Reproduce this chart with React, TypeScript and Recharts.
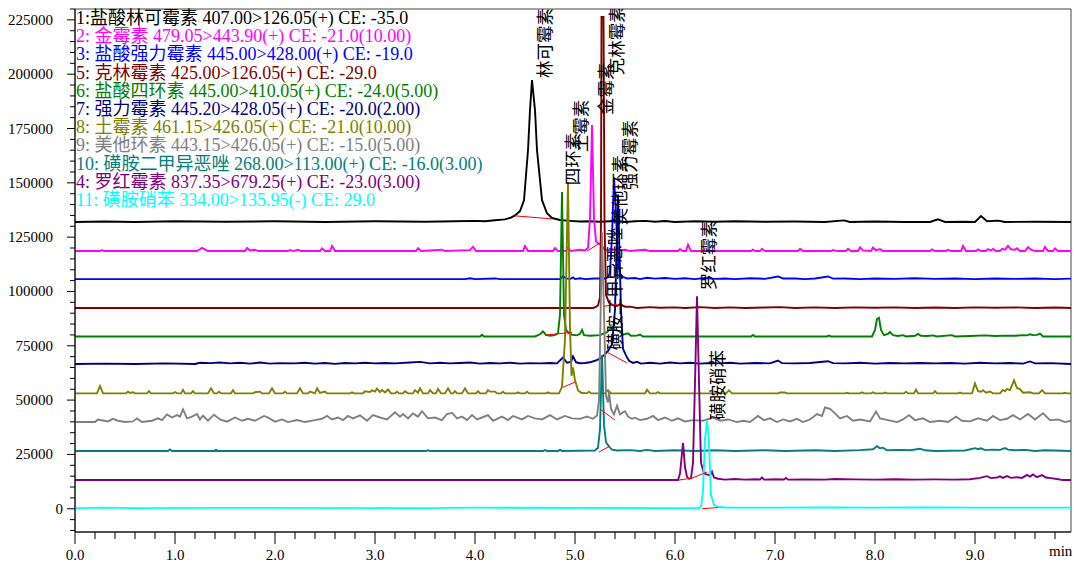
import { ComposedChart, Line, Scatter, XAxis, YAxis, ReferenceArea } from 'recharts';

type Pt = [number, number];

// retention time (min) / height above the trace baseline
const lincomycin: Pt[] = [
  [0, 0], [0.3, 200], [0.6, 0], [1.0, 300], [1.5, 100], [2.0, 300], [2.5, 0], [3.0, 300], [3.5, 100], [3.8, 300],
  [4.0, 500], [4.1, 300], [4.2, 800], [4.3, 1200], [4.36, 2000], [4.4, 3000], [4.45, 5000], [4.49, 10000],
  [4.53, 33000], [4.55, 51500], [4.57, 65300], [4.6, 51500], [4.62, 33000], [4.67, 10000], [4.72, 4000],
  [4.77, 1800], [4.85, 900], [4.95, 500], [5.05, 200], [5.15, 300], [5.25, 100], [5.4, 400], [5.5, 0], [5.6, 300],
  [5.7, 500], [5.8, 100], [5.9, 400], [6.0, 0], [6.2, 300], [6.4, 100], [6.6, 300], [6.9, 100], [7.2, 200],
  [7.5, 0], [7.69, 700], [7.75, 0], [8.0, 200], [8.3, 0], [8.55, 0], [8.63, 1200], [8.7, 0], [8.9, 100], [9.0, 0],
  [9.06, 2700], [9.12, 300], [9.23, 600], [9.3, 0], [9.6, 100], [9.96, 0],
];
const chlortetracycline: Pt[] = [
  [0, 0], [0.25, 0], [0.27, 500], [0.29, 0], [1.22, 0], [1.25, 800], [1.27, 1500], [1.3, 800], [1.33, 0],
  [1.7, 0], [1.72, 1400], [1.75, 300], [1.8, 600], [1.83, 0], [2.13, 0], [2.15, 500], [2.18, 0], [2.23, 600],
  [2.26, 0], [2.45, 0], [2.47, 1200], [2.5, 0], [2.55, 0], [2.57, 2400], [2.6, 0], [3.41, 0], [3.43, 1300],
  [3.46, 0], [3.67, 600], [3.7, 0], [3.95, 400], [3.98, 2000], [4.01, 0], [4.48, 0], [4.5, 2400], [4.53, 0],
  [4.78, 0], [4.8, 1400], [4.83, 0], [4.91, 0], [4.93, 1600], [4.96, 0], [5.05, 600], [5.1, 300], [5.13, 1500],
  [5.15, 15000], [5.17, 58000], [5.19, 15000], [5.21, 4500], [5.23, 3600], [5.26, 3000], [5.29, 1000],
  [5.33, 300], [5.38, 800], [5.42, 200], [5.5, 600], [5.55, 0], [5.7, 600], [5.75, 0], [6.03, 0], [6.05, 900],
  [6.08, 0], [6.11, 0], [6.13, 3000], [6.16, 0], [6.76, 0], [6.78, 600], [6.8, 0], [6.85, 0], [6.87, 1000],
  [6.9, 0], [7.23, 0], [7.25, 1000], [7.28, 0], [7.56, 0], [7.58, 500], [7.62, 0], [7.71, 0], [7.73, 1000],
  [7.76, 0], [7.83, 0], [7.85, 1700], [7.88, 300], [7.96, 0], [7.98, 1600], [8.01, 300], [8.05, 900], [8.08, 0],
  [8.55, 0], [8.57, 800], [8.6, 0], [8.71, 0], [8.73, 600], [8.76, 0], [8.86, 0], [8.88, 2400], [8.91, 0],
  [9.01, 0], [9.03, 800], [9.06, 0], [9.11, 0], [9.13, 900], [9.16, 300], [9.18, 1000], [9.21, 0], [9.25, 0],
  [9.27, 1000], [9.3, 600], [9.33, 2400], [9.36, 800], [9.4, 600], [9.42, 1300], [9.45, 0], [9.5, 0],
  [9.53, 1800], [9.56, 600], [9.6, 0], [9.68, 0], [9.7, 1900], [9.73, 0], [9.78, 0], [9.8, 1200], [9.83, 0],
  [9.96, 0],
];
const doxycyclineHcl: Pt[] = [
  [0, 0], [3.9, 0], [3.95, 400], [4.0, 0], [4.2, 300], [4.25, 0], [4.85, 0], [4.88, 1300], [4.91, 300],
  [4.95, 0], [4.98, 800], [5.0, 0], [5.05, 400], [5.1, 0], [5.2, 300], [5.3, 300], [5.33, 800], [5.35, 3000],
  [5.37, 20000], [5.39, 46900], [5.41, 30000], [5.43, 8000], [5.45, 2500], [5.48, 1000], [5.52, 300],
  [5.6, 500], [5.65, 0], [5.72, 600], [5.8, 200], [5.9, 500], [6.0, 100], [6.1, 400], [6.2, 0], [6.3, 500],
  [6.4, 100], [6.5, 300], [6.6, 0], [6.75, 400], [6.9, 100], [7.03, 1200], [7.08, 300], [7.2, 300], [7.3, 0],
  [7.4, 300], [7.53, 1200], [7.58, 200], [7.7, 300], [7.85, 0], [8.0, 300], [8.2, 100], [8.4, 400], [8.6, 100],
  [8.8, 300], [9.0, 0], [9.2, 300], [9.4, 100], [9.6, 300], [9.8, 0], [9.96, 200],
];
const clindamycin: Pt[] = [
  [0, 0], [5.18, 0], [5.21, 500], [5.23, 1200], [5.25, 5000], [5.26, 40000], [5.265, 133900], [5.285, 133900],
  [5.295, 40000], [5.31, 6000], [5.34, 2500], [5.38, 1200], [5.42, 900], [5.45, 1800], [5.5, 600], [5.55, 600],
  [5.62, 0], [5.75, 400], [5.85, 100], [6.0, 300], [6.1, 0], [6.25, 400], [6.4, 0], [6.55, 300], [6.7, 0],
  [6.9, 200], [7.05, 400], [7.2, 0], [7.4, 300], [7.6, 0], [7.8, 300], [8.0, 100], [8.2, 300], [8.4, 0],
  [8.6, 200], [8.8, 0], [9.0, 300], [9.2, 100], [9.4, 300], [9.6, 0], [9.8, 200], [9.96, 0],
];
const tetracyclineHcl: Pt[] = [
  [0, 0], [4.05, 0], [4.07, 800], [4.09, 0], [4.6, 0], [4.65, 1000], [4.68, 2300], [4.71, 700], [4.75, 300],
  [4.8, 600], [4.83, 1500], [4.85, 10000], [4.87, 66500], [4.89, 10000], [4.91, 3000], [4.94, 1500],
  [4.97, 800], [5.02, 500], [5.05, 1200], [5.07, 3000], [5.09, 600], [5.15, 300], [5.25, 600], [5.32, 2000],
  [5.36, 4000], [5.4, 3000], [5.44, 2500], [5.48, 800], [5.53, 1400], [5.56, 300], [5.62, 400], [5.65, 900],
  [5.68, 0], [6.76, 0], [6.78, 700], [6.8, 0], [7.52, 0], [7.54, 400], [7.56, 0], [7.97, 0], [8.0, 3000],
  [8.02, 8000], [8.04, 8600], [8.06, 3000], [8.09, 600], [8.13, 1200], [8.15, 2000], [8.18, 600], [8.23, 200],
  [8.28, 600], [8.31, 0], [8.4, 300], [8.43, 1200], [8.46, 300], [8.52, 200], [8.58, 500], [8.62, 0],
  [8.77, 600], [8.8, 0], [8.95, 200], [9.1, 500], [9.2, 200], [9.3, 400], [9.4, 300], [9.48, 600], [9.52, 500],
  [9.55, 1000], [9.58, 600], [9.62, 700], [9.65, 1300], [9.68, 0], [9.96, 0],
];
const doxycycline: Pt[] = [
  [0, 0], [0.3, 200], [0.6, 0], [0.9, 300], [1.2, 0], [1.25, 600], [1.35, 400], [1.45, 700], [1.55, 300],
  [1.65, 600], [1.75, 200], [1.85, 700], [1.95, 200], [2.05, 400], [2.2, 300], [2.3, 600], [2.4, 200],
  [2.5, 500], [2.6, 100], [2.7, 500], [2.8, 300], [2.9, 600], [3.0, 300], [3.1, 500], [3.2, 300], [3.35, 700],
  [3.45, 1000], [3.55, 300], [3.65, 600], [3.75, 300], [3.85, 500], [3.95, 700], [4.05, 200], [4.15, 500],
  [4.25, 300], [4.35, 600], [4.45, 200], [4.55, 400], [4.65, 300], [4.75, 500], [4.82, 300], [4.88, 3000],
  [4.92, 600], [4.96, 1000], [4.98, 3500], [5.01, 800], [5.05, 400], [5.1, 500], [5.15, 800], [5.2, 1500],
  [5.25, 2500], [5.29, 4000], [5.33, 6000], [5.37, 9000], [5.4, 25000], [5.43, 78000], [5.46, 25000],
  [5.48, 7000], [5.51, 4000], [5.54, 1500], [5.58, 500], [5.62, 1000], [5.66, 200], [5.75, 600], [5.85, 200],
  [5.95, 700], [6.05, 300], [6.15, 600], [6.25, 200], [6.35, 500], [6.45, 300], [6.55, 600], [6.65, 200],
  [6.8, 500], [6.95, 300], [7.03, 1600], [7.07, 400], [7.2, 300], [7.35, 500], [7.53, 1300], [7.58, 400],
  [7.7, 300], [7.85, 600], [8.0, 200], [8.15, 500], [8.3, 300], [8.45, 500], [8.6, 300], [8.75, 500],
  [8.9, 200], [9.05, 600], [9.2, 300], [9.35, 500], [9.48, 200], [9.55, 1200], [9.6, 300], [9.75, 400],
  [9.96, 0],
];
const oxytetracycline: Pt[] = [
  [0, 0], [0.22, 0], [0.25, 3400], [0.28, 0], [0.51, 0], [0.53, 800], [0.55, 200], [0.58, 500], [0.6, 0],
  [0.72, 0], [0.74, 1000], [0.76, 0], [0.98, 0], [1.0, 600], [1.02, 0], [1.06, 0], [1.08, 1600], [1.1, 0],
  [1.16, 0], [1.18, 1000], [1.2, 0], [1.33, 0], [1.36, 2300], [1.39, 0], [1.42, 0], [1.44, 800], [1.46, 0],
  [1.56, 0], [1.58, 1400], [1.6, 0], [1.78, 0], [1.8, 500], [1.85, 800], [1.87, 0], [1.94, 0], [1.97, 2300],
  [2.0, 0], [2.08, 0], [2.1, 800], [2.12, 0], [2.22, 0], [2.25, 2300], [2.28, 0], [2.33, 0], [2.35, 800],
  [2.4, 0], [2.42, 2300], [2.45, 200], [2.5, 800], [2.52, 0], [2.75, 0], [2.77, 500], [2.79, 0], [2.88, 0],
  [2.9, 1000], [2.95, 600], [2.97, 1400], [3.0, 800], [3.02, 2200], [3.05, 600], [3.07, 1500], [3.1, 400],
  [3.13, 1800], [3.16, 0], [3.2, 0], [3.22, 800], [3.24, 0], [3.28, 0], [3.3, 1000], [3.33, 0], [3.38, 0],
  [3.4, 1500], [3.43, 300], [3.45, 2300], [3.48, 0], [3.53, 0], [3.55, 1500], [3.58, 0], [3.61, 0],
  [3.63, 2000], [3.66, 0], [3.7, 0], [3.73, 2300], [3.76, 0], [3.78, 0], [3.8, 1000], [3.82, 0], [3.87, 0],
  [3.9, 2300], [3.93, 0], [4.01, 0], [4.03, 1000], [4.05, 0], [4.11, 0], [4.13, 1500], [4.15, 800], [4.2, 800],
  [4.22, 0], [4.26, 0], [4.28, 800], [4.3, 0], [4.41, 0], [4.43, 500], [4.45, 0], [4.5, 0], [4.52, 800],
  [4.54, 0], [4.71, 0], [4.73, 500], [4.75, 0], [4.84, 0], [4.87, 3000], [4.9, 25000], [4.93, 97300],
  [4.95, 30000], [4.965, 8000], [4.98, 12000], [5.0, 6000], [5.03, 1500], [5.06, 300], [5.12, 0], [5.14, 800],
  [5.16, 0], [5.3, 0], [5.33, 1500], [5.36, 0], [5.7, 0], [5.72, 1700], [5.75, 0], [5.81, 0], [5.83, 600],
  [5.85, 0], [6.51, 0], [6.54, 1400], [6.57, 0], [7.03, 0], [7.05, 400], [7.1, 400], [7.12, 0], [7.7, 0],
  [7.72, 300], [7.74, 0], [7.85, 0], [7.87, 500], [7.89, 0], [7.96, 0], [7.98, 500], [8.0, 0], [8.08, 0],
  [8.1, 400], [8.12, 0], [8.29, 0], [8.31, 800], [8.33, 0], [8.39, 0], [8.41, 1800], [8.43, 0], [8.58, 0],
  [8.6, 1000], [8.62, 0], [8.83, 0], [8.85, 400], [8.87, 0], [8.97, 0], [9.0, 4600], [9.03, 1000], [9.06, 800],
  [9.08, 1500], [9.11, 300], [9.15, 800], [9.18, 0], [9.25, 0], [9.28, 1600], [9.3, 1000], [9.32, 2000],
  [9.35, 1500], [9.39, 6000], [9.42, 2500], [9.45, 2000], [9.48, 300], [9.55, 500], [9.58, 0], [9.64, 0],
  [9.67, 1500], [9.7, 0], [9.88, 0], [9.9, 300], [9.92, 0], [9.96, 0],
];
const methacycline: Pt[] = [
  [0, 0], [0.2, 0], [0.23, 1200], [0.33, 300], [0.38, 1500], [0.43, 600], [0.5, 0], [0.58, 300], [0.62, 1700],
  [0.67, 0], [0.77, 600], [0.83, 1700], [0.87, 900], [0.92, 3500], [0.97, 2100], [1.02, 3200], [1.05, 2500],
  [1.08, 5800], [1.12, 1700], [1.17, 2500], [1.22, 3700], [1.25, 1200], [1.28, 2900], [1.33, 600],
  [1.39, 3400], [1.45, 1200], [1.52, 200], [1.6, 2100], [1.67, 600], [1.73, 1500], [1.8, 600], [1.89, 2800],
  [1.93, 2000], [2.0, 200], [2.07, 1200], [2.13, 0], [2.22, 900], [2.3, 0], [2.4, 900], [2.47, 1500],
  [2.52, 2800], [2.57, 1200], [2.63, 2100], [2.68, 900], [2.73, 2800], [2.78, 1700], [2.85, 3100], [2.92, 600],
  [2.98, 3200], [3.05, 2100], [3.12, 1200], [3.2, 4500], [3.25, 2500], [3.28, 3700], [3.33, 1700], [3.38, 4000],
  [3.43, 2500], [3.47, 5000], [3.53, 1700], [3.6, 2100], [3.67, 900], [3.72, 3700], [3.77, 4300], [3.82, 1700],
  [3.87, 2500], [3.92, 900], [3.97, 3200], [4.02, 1200], [4.07, 2100], [4.13, 3200], [4.18, 600], [4.27, 2500],
  [4.33, 900], [4.38, 2800], [4.47, 1200], [4.53, 2800], [4.6, 1700], [4.67, 1200], [4.75, 3200], [4.82, 1200],
  [4.9, 2800], [4.97, 1700], [5.05, 1500], [5.12, 2500], [5.18, 1500], [5.22, 3000], [5.24, 10000],
  [5.26, 60000], [5.27, 87400], [5.29, 50000], [5.31, 12000], [5.33, 9000], [5.34, 14000], [5.36, 6000],
  [5.39, 3500], [5.42, 7500], [5.45, 3500], [5.48, 4500], [5.5, 5000], [5.53, 2500], [5.57, 1500], [5.6, 2000],
  [5.65, 900], [5.72, 1500], [5.78, 2800], [5.83, 900], [5.9, 2100], [5.97, 600], [6.03, 1700], [6.1, 300],
  [6.18, 900], [6.28, 600], [6.38, 2100], [6.45, 600], [6.53, 1200], [6.62, 0], [6.68, 600], [6.75, 0],
  [6.83, 2800], [6.89, 900], [6.95, 1700], [7.02, 0], [7.08, 1200], [7.15, 300], [7.22, 1500], [7.28, 0],
  [7.35, 1200], [7.42, 3700], [7.47, 2800], [7.5, 6700], [7.55, 6100], [7.6, 4000], [7.65, 1700], [7.72, 2800],
  [7.78, 600], [7.85, 1200], [7.95, 300], [8.01, 4800], [8.05, 1700], [8.13, 900], [8.22, 0], [8.28, 1200],
  [8.34, 3200], [8.4, 900], [8.48, 1700], [8.55, 0], [8.65, 600], [8.73, 0], [8.81, 2500], [8.87, 600],
  [8.95, 300], [9.03, 1700], [9.12, 600], [9.18, 2800], [9.25, 900], [9.32, 1500], [9.38, 3200], [9.45, 1200],
  [9.53, 3700], [9.6, 1200], [9.68, 4000], [9.75, 900], [9.83, 1200], [9.9, 0], [9.96, 600],
];
const sulfisoxazole: Pt[] = [
  [0, 0], [0.93, 0], [0.95, 700], [0.97, 0], [1.39, 0], [1.41, 500], [1.43, 0], [3.51, 0], [3.53, 300],
  [3.55, 0], [4.68, 0], [4.7, 400], [4.72, 0], [4.83, 0], [4.85, 500], [4.87, 0], [5.2, 200], [5.23, 1500],
  [5.25, 10000], [5.27, 44200], [5.29, 12000], [5.31, 4000], [5.34, 2000], [5.37, 600], [5.42, 200],
  [5.55, 400], [5.65, 0], [5.72, 500], [5.8, 0], [6.0, 300], [6.2, 0], [6.4, 300], [6.6, 0], [6.9, 300],
  [7.1, 0], [7.4, 300], [7.6, 0], [7.85, 400], [7.98, 800], [8.02, 2200], [8.05, 1200], [8.08, 1500],
  [8.12, 300], [8.25, 500], [8.35, 300], [8.45, 1000], [8.5, 300], [8.6, 0], [8.9, 200], [9.0, 1300],
  [9.03, 800], [9.06, 1200], [9.1, 400], [9.18, 600], [9.25, 500], [9.3, 1300], [9.33, 600], [9.4, 300],
  [9.5, 500], [9.6, 0], [9.7, 300], [9.96, 0],
];
const roxithromycin: Pt[] = [
  [0, 0], [6.03, 0], [6.05, 3000], [6.08, 17000], [6.1, 6000], [6.12, 1500], [6.14, 600], [6.16, 800],
  [6.18, 8000], [6.2, 45000], [6.22, 84600], [6.24, 45000], [6.26, 8000], [6.29, 3000], [6.32, 2500],
  [6.35, 2200], [6.37, 3800], [6.39, 1200], [6.43, 600], [6.5, 200], [6.6, 500], [6.7, 200], [6.8, 400],
  [6.85, 300], [6.87, 1200], [6.89, 200], [7.0, 400], [7.09, 300], [7.11, 1000], [7.13, 200], [7.3, 300],
  [7.5, 200], [7.6, 500], [7.8, 300], [8.0, 200], [8.2, 400], [8.4, 200], [8.6, 300], [8.8, 200], [8.95, 400],
  [9.05, 1000], [9.12, 1800], [9.16, 900], [9.22, 1200], [9.25, 1700], [9.28, 1000], [9.32, 1800], [9.36, 1000],
  [9.42, 1300], [9.47, 1000], [9.52, 2400], [9.55, 1600], [9.58, 2600], [9.62, 1300], [9.67, 2300],
  [9.71, 1200], [9.76, 900], [9.82, 500], [9.88, 0], [9.96, 0],
];
const sulfanitran: Pt[] = [
  [0, 0], [0.3, 200], [0.6, 0], [1.5, 100], [3.5, 0], [4.0, 200], [6.0, 0], [6.24, 0], [6.26, 500],
  [6.28, 8000], [6.3, 32000], [6.32, 40300], [6.34, 30000], [6.36, 6000], [6.39, 1500], [6.43, 600],
  [6.5, 300], [7.0, 200], [7.5, 300], [8.0, 200], [8.5, 300], [9.0, 200], [9.96, 200],
];

const traceLabels = [
  '1:盐酸林可霉素 407.00>126.05(+) CE: -35.0',
  '2: 金霉素 479.05>443.90(+) CE: -21.0(10.00)',
  '3: 盐酸强力霉素 445.00>428.00(+) CE: -19.0',
  '5: 克林霉素 425.00>126.05(+) CE: -29.0',
  '6: 盐酸四环素 445.00>410.05(+) CE: -24.0(5.00)',
  '7: 强力霉素 445.20>428.05(+) CE: -20.0(2.00)',
  '8: 土霉素 461.15>426.05(+) CE: -21.0(10.00)',
  '9: 美他环素 443.15>426.05(+) CE: -15.0(5.00)',
  '10: 磺胺二甲异恶唑 268.00>113.00(+) CE: -16.0(3.00)',
  '4: 罗红霉素 837.35>679.25(+) CE: -23.0(3.00)',
  '11: 磺胺硝苯 334.00>135.95(-) CE: 29.0',
];
const traceColors = ['#000000', '#ff00ff', '#0000ff', '#800000', '#008000', '#000080', '#808000', '#808080', '#008080', '#800080', '#00ffff'];
const traceOffsets = [132000, 118600, 105700, 92400, 79300, 66600, 53100, 39900, 26600, 13200, 300];
const traceData = [
  lincomycin, chlortetracycline, doxycyclineHcl, clindamycin, tetracyclineHcl, doxycycline,
  oxytetracycline, methacycline, sulfisoxazole, roxithromycin, sulfanitran,
];

// red integration baselines, absolute values
const integrationLines: Pt[][] = [
  [[4.4, 134800], [4.77, 133400]],
  [[5.12, 118600], [5.25, 122300]],
  [[5.35, 106400], [5.5, 106400]],
  [[5.29, 93200], [5.42, 94100]],
  [[4.7, 79900], [4.97, 81200]],
  [[5.32, 72100], [5.52, 67100]],
  [[4.88, 55900], [5.0, 58300]],
  [[5.25, 45900], [5.4, 40800]],
  [[5.24, 26100], [5.35, 28900]],
  [[6.04, 13200], [6.17, 14100], [6.32, 16900]],
  [[6.27, 0], [6.43, 550]],
];

// peak names: time of label centre, value at label foot
const peakNames = ['林可霉素', '四环素', '土霉素', '金霉素', '克林霉素', '美他环素', '强力霉素', '磺胺二甲异恶唑', '罗红霉素', '磺胺硝苯'];
const peakNameT = [4.68, 4.96, 5.04, 5.29, 5.4, 5.43, 5.53, 5.38, 6.32, 6.41];
const peakNameV = [198200, 148900, 164100, 181200, 199500, 130500, 146600, 73000, 100600, 40800];

const yMajor = [0, 25000, 50000, 75000, 100000, 125000, 150000, 175000, 200000, 225000];
const yTicks = Array.from({ length: 49 }, (_, i) => -10000 + i * 5000);
const xTicks = Array.from({ length: 50 }, (_, i) => Math.round(i * 2) / 10);

const X_MAX = 9.96;
const Y_MIN = -10700;
const Y_MAX = 230000;
const SERIF = "'Liberation Serif', 'Noto Sans CJK SC', serif";

const XTick = (props: any) => {
  const { x, y, payload } = props;
  const v = payload.value as number;
  const major = Math.abs(v - Math.round(v)) < 1e-6;
  return (
    <g>
      <line x1={x} x2={x} y1={y} y2={y + (major ? 12 : 7)} stroke="#000" />
      {major && (
        <text x={x} y={y + 28} textAnchor="middle" fontSize={15} fontFamily={SERIF} fill="#000">
          {v.toFixed(1)}
        </text>
      )}
    </g>
  );
};

const YTick = (props: any) => {
  const { x, y, payload } = props;
  const v = payload.value as number;
  const major = yMajor.includes(v);
  return (
    <g>
      <line x1={x - (major ? 8 : 5)} x2={x} y1={y} y2={y} stroke="#000" />
      {major && (
        <text x={v === 0 ? x - 12 : x - 22} y={y} dominantBaseline="central" textAnchor="end" fontSize={15} fontFamily={SERIF} fill="#000">
          {v}
        </text>
      )}
    </g>
  );
};

const PeakName = (props: any) => {
  const { cx, cy, payload } = props;
  return (
    <text
      transform={`translate(${cx},${cy}) rotate(-90)`}
      x={0}
      y={0}
      dominantBaseline="central"
      fontSize={17.5}
      fontFamily="'Noto Sans CJK SC', sans-serif"
      fill="#000"
    >
      {payload.name}
    </text>
  );
};

export default function App() {
  const series = traceData.map((pts, i) => pts.map(([t, h]) => ({ t, v: traceOffsets[i] + h })));
  const redLines = integrationLines.map((seg) => seg.map(([t, v]) => ({ t, v })));
  const names = peakNames.map((name, i) => ({ name, t: peakNameT[i], v: peakNameV[i] }));

  return (
    <div style={{ position: 'absolute', left: 0, top: 0, width: 1074, height: 562 }}>
      <ComposedChart width={1074} height={562} margin={{ top: 9, right: 3, bottom: 0, left: 0 }}>
        <XAxis
          type="number"
          dataKey="t"
          domain={[0, X_MAX]}
          ticks={xTicks}
          interval={0}
          allowDataOverflow
          height={30}
          tickSize={0}
          tickMargin={0}
          tick={<XTick />}
          axisLine={{ stroke: '#000' }}
        />
        <YAxis
          type="number"
          domain={[Y_MIN, Y_MAX]}
          ticks={yTicks}
          interval={0}
          allowDataOverflow
          width={75}
          tickSize={0}
          tickMargin={0}
          tick={<YTick />}
          axisLine={{ stroke: '#000' }}
        />
        <ReferenceArea x1={0} x2={X_MAX} y1={Y_MIN} y2={Y_MAX} fill="none" stroke="#444" strokeWidth={1} />
        {series.map((d, i) => (
          <Line
            key={'s' + i}
            data={d}
            dataKey="v"
            type="linear"
            stroke={traceColors[i]}
            strokeWidth={1.9}
            dot={false}
            activeDot={false}
            isAnimationActive={false}
          />
        ))}
        {redLines.map((d, i) => (
          <Line
            key={'r' + i}
            data={d}
            dataKey="v"
            type="linear"
            stroke="#ff0000"
            strokeWidth={1}
            dot={false}
            activeDot={false}
            isAnimationActive={false}
          />
        ))}
        <Scatter data={names} dataKey="v" shape={<PeakName />} isAnimationActive={false} />
      </ComposedChart>
      <div
        style={{
          position: 'absolute',
          left: 76,
          top: 9,
          fontFamily: SERIF,
          fontSize: 18,
          lineHeight: '18.2px',
          whiteSpace: 'nowrap',
        }}
      >
        {traceLabels.map((label, i) => (
          <div key={i} style={{ color: traceColors[i] }}>
            {label}
          </div>
        ))}
      </div>
      <div style={{ position: 'absolute', left: 1049, top: 543, fontFamily: SERIF, fontSize: 15 }}>min</div>
    </div>
  );
}
